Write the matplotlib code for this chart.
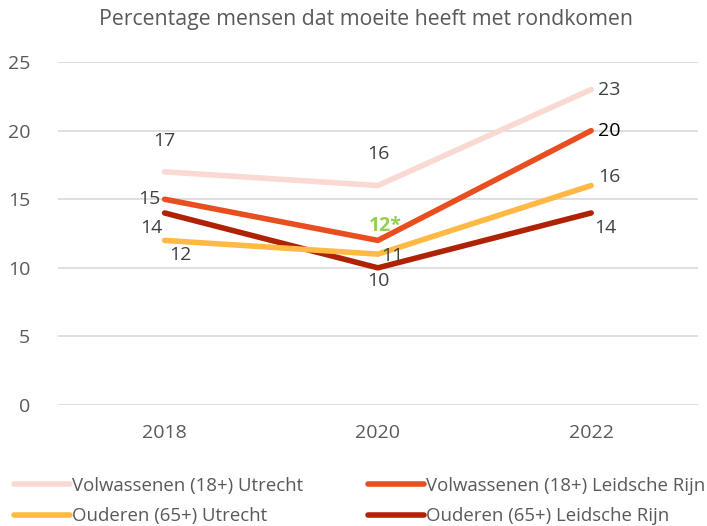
import matplotlib.pyplot as plt

# ── data ──────────────────────────────────────────────
years = ['2018', '2020', '2022']
volw_utrecht = [17, 16, 23]
volw_lr      = [15, 12, 20]
oud_utrecht  = [12, 11, 16]
oud_lr       = [14, 10, 14]

names = ['Volwassenen (18+) Utrecht', 'Volwassenen (18+) Leidsche Rijn',
         'Ouderen (65+) Utrecht', 'Ouderen (65+) Leidsche Rijn']
colors = ['#F9D9D1', '#E84E1F', '#FFB944', '#B02205']

plt.rcParams['font.family'] = ['Open Sans', 'DejaVu Sans']

fig = plt.figure(figsize=(7.07, 5.26), dpi=100)
ax = fig.add_axes([0.082, 0.23, 0.905, 0.652])

x = range(len(years))
series = [volw_utrecht, volw_lr, oud_utrecht, oud_lr]
# draw order as in reference (dark red at back)
order = [3, 2, 0, 1]
lines = {}
for i in order:
    ln, = ax.plot(x, series[i], color=colors[i], lw=4, solid_capstyle='round',
                  solid_joinstyle='round', label=names[i], zorder=3)
    lines[i] = ln

# label offsets in pixels (dx, dy)
offsets = {
    0: [(0, 31), (0, 32), (18, 0)],
    1: [(-15, 0), (7, 14), (18, 0)],
    2: [(16, -15), (14, -2), (18, 9)],
    3: [(-13, -15), (0, -13), (14, -15)],
}
for i, vals in enumerate(series):
    for j, v in enumerate(vals):
        dx, dy = offsets[i][j]
        txt, col, fw = str(v), '#404040', 'normal'
        if i == 1 and j == 1:
            txt, col, fw = '12*', '#92D050', 'bold'
        if i == 1 and j == 2:
            col = '#000000'
        ax.annotate(txt, (j, v), xytext=(dx, dy), textcoords='offset pixels',
                    ha='center', va='center', fontsize=14, color=col,
                    fontweight=fw, zorder=5)

ax.set_xlim(-0.5, 2.5)
ax.set_ylim(0, 25)
ax.set_yticks(range(0, 26, 5))
ax.set_xticks(list(x))
ax.set_xticklabels(years)
ax.grid(axis='y', color='#D9D9D9', lw=1.2, zorder=0)
for s in ax.spines.values():
    s.set_visible(False)
ax.tick_params(length=0, labelsize=14, labelcolor='#595959')
ax.tick_params(axis='y', pad=20)
ax.tick_params(axis='x', pad=14)

fig.text(0.517, 0.962, 'Percentage mensen dat moeite heeft met rondkomen',
         ha='center', va='center', fontsize=15.3, color='#595959')

handles = [lines[0], lines[2], lines[1], lines[3]]
fig.legend(handles, [h.get_label() for h in handles], ncol=2,
           loc='lower left', bbox_to_anchor=(-0.004, -0.03), frameon=False,
           fontsize=13.4, labelcolor='#595959', handlelength=3.0,
           handletextpad=0.1, columnspacing=3.5, labelspacing=0.65)

fig.savefig('out.png', dpi=100)
